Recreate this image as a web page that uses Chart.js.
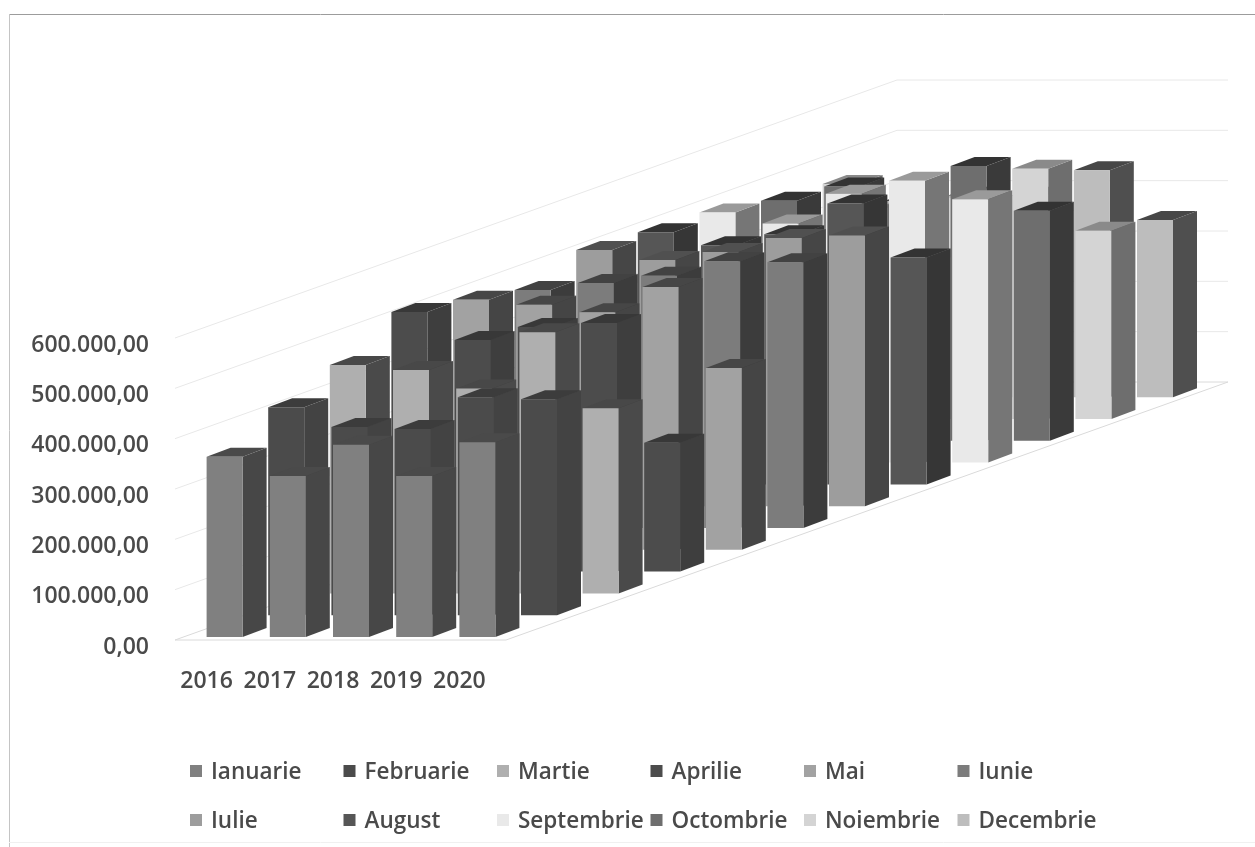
<!DOCTYPE html>
<html lang="ro">
<head>
    <meta charset="UTF-8">
    <title>Grafic lunar 2016-2020</title>
    <script src="https://cdn.jsdelivr.net/npm/chart.js"></script>
    <style>
        html, body { margin: 0; padding: 0; background: #fff; }
        #wrap { width: 1255px; height: 847px; position: relative; }
    </style>
</head>
<body>
<div id="wrap"><canvas id="chart" width="1255" height="847"></canvas></div>
<script>
    const years = ["2016", "2017", "2018", "2019", "2020"];
    const months = ["Ianuarie", "Februarie", "Martie", "Aprilie", "Mai", "Iunie", "Iulie", "August", "Septembrie", "Octombrie", "Noiembrie", "Decembrie"];

    // values; bars fully hidden behind others are rough guesses
    const ianuarie = [358000, 320000, 382000, 320000, 387000];
    const februarie = [413000, 374000, 370000, 433000, 429000];
    const martie = [454000, 444000, 407000, 519000, 368000];
    const aprilie = [516000, 460000, 486000, 494000, 256000];
    const mai = [497000, 487000, 472000, 522000, 361000];
    const iunie = [473000, 487000, 501000, 530000, 528000];
    const iulie = [509000, 489000, 505000, 533000, 538000];
    const august = [501000, 475000, 497000, 558000, 451000];
    const septembrie = [497000, 475000, 534000, 560000, 523000];
    const octombrie = [477000, 505000, 470000, 546000, 457000];
    const noiembrie = [467000, 420000, 440000, 497000, 374000];
    const decembrie = [390000, 400000, 400000, 451000, 352000];
    const series = [ianuarie, februarie, martie, aprilie, mai, iunie, iulie, august, septembrie, octombrie, noiembrie, decembrie];

    const frontColors = ["#808080", "#4b4b4b", "#afafaf", "#4c4c4c", "#a2a2a2", "#7c7c7c", "#9d9d9d", "#565656", "#e9e9e9", "#6e6e6e", "#d4d4d4", "#bdbdbd"];
    const sideColors = ["#474747", "#434343", "#4a4a4a", "#3e3e3e", "#454545", "#3c3c3c", "#464646", "#363636", "#767676", "#3a3a3a", "#6e6e6e", "#4f4f4f"];
    const topColors = ["#4a4a4a", "#3c3c3c", "#484848", "#383838", "#464646", "#424242", "#505050", "#333333", "#9a9a9a", "#333333", "#8a8a8a", "#474747"];

    // oblique projection of the excel 3d chart
    const depthStep = { x: 61.6, y: -21.8 };   // one month further back
    const boxDepth = { x: 24, y: -9 };
    const barWidth = 36;
    const floorLift = 10;                       // bars stand above the axis zero
    const wallLift = 7;
    const wallDepth = { x: 722, y: -258 };
    const fontFamily = "'Open Sans'";
    const textColor = "#4a4a4a";

    function formatValue(v) {
        return String(v).replace(/\B(?=(\d{3})+(?!\d))/g, ".") + ",00";
    }

    function poly(ctx, pts, color) {
        ctx.fillStyle = color;
        ctx.beginPath();
        pts.forEach((p, i) => i ? ctx.lineTo(p[0], p[1]) : ctx.moveTo(p[0], p[1]));
        ctx.closePath();
        ctx.fill();
    }

    const frame = {
        id: "frame",
        beforeDraw(chart) {
            const ctx = chart.ctx;
            ctx.save();
            ctx.lineWidth = 1;
            ctx.strokeStyle = "#9c9c9c";
            ctx.beginPath(); ctx.moveTo(9, 14.5); ctx.lineTo(1255, 14.5); ctx.stroke();
            ctx.strokeStyle = "#c4c4c4";
            ctx.beginPath(); ctx.moveTo(9.5, 14); ctx.lineTo(9.5, 847); ctx.stroke();
            ctx.strokeStyle = "#f0f0f0";
            ctx.beginPath(); ctx.moveTo(9, 842.5); ctx.lineTo(1255, 842.5); ctx.stroke();
            ctx.restore();
        }
    };

    const bars3d = {
        id: "bars3d",
        beforeDatasetsDraw(chart) {
            const ctx = chart.ctx;
            const yScale = chart.scales.y;
            const left = chart.chartArea.left;
            const wallRight = left + wallDepth.x + 331;

            // walls: each y tick runs back along the side wall, then across the back wall
            ctx.save();
            ctx.lineWidth = 1;
            yScale.ticks.forEach(t => {
                const py = yScale.getPixelForValue(t.value) - wallLift;
                ctx.strokeStyle = t.value === 0 ? "#dadada" : "#e8e8e8";
                ctx.beginPath();
                ctx.moveTo(left, py);
                ctx.lineTo(left + wallDepth.x, py + wallDepth.y);
                ctx.lineTo(wallRight, py + wallDepth.y);
                if (t.value === 0) {
                    ctx.moveTo(left, py);
                    ctx.lineTo(wallRight - wallDepth.x, py);
                    ctx.lineTo(wallRight, py + wallDepth.y);
                }
                ctx.stroke();
            });

            // painter order: december row first, january last
            for (let m = series.length - 1; m >= 0; m--) {
                const meta = chart.getDatasetMeta(m);
                const dx = depthStep.x * m, dy = depthStep.y * m - floorLift;
                for (let c = meta.data.length - 1; c >= 0; c--) {
                    const bar = meta.data[c];
                    const x0 = bar.x + dx, x1 = x0 + barWidth;
                    const yt = bar.y + dy, yb = bar.base + dy;
                    const bx = boxDepth.x, by = boxDepth.y;
                    poly(ctx, [[x1, yt], [x1 + bx, yt + by], [x1 + bx, yb + by], [x1, yb]], sideColors[m]);
                    poly(ctx, [[x0, yt], [x0 + bx, yt + by], [x1 + bx, yt + by], [x1, yt]], topColors[m]);
                    poly(ctx, [[x0, yt], [x1, yt], [x1, yb], [x0, yb]], frontColors[m]);
                }
            }
            ctx.restore();
            return false; // the flat bars are replaced by the boxes above
        }
    };

    const gridLegend = {
        id: "gridLegend",
        afterDraw(chart) {
            const ctx = chart.ctx;
            ctx.save();
            ctx.font = "600 22.5px " + fontFamily;
            ctx.textBaseline = "middle";
            chart.data.datasets.forEach((ds, i) => {
                const col = i % 6, row = Math.floor(i / 6);
                const x = 190 + col * 153.5, y = 771 + row * 49;
                ctx.fillStyle = ds.backgroundColor;
                ctx.fillRect(x, y - 6, 12, 12);
                ctx.fillStyle = textColor;
                ctx.fillText(ds.label, x + 21, y + 2);
            });
            ctx.restore();
        }
    };

    new Chart(document.getElementById("chart"), {
        type: "bar",
        data: {
            labels: years,
            datasets: series.map((values, i) => ({
                label: months[i],
                data: values,
                backgroundColor: frontColors[i],
                barThickness: barWidth,
                grouped: false
            }))
        },
        options: {
            responsive: false,
            animation: false,
            layout: { padding: { top: 345, right: 764, bottom: 0, left: 0 } },
            plugins: { legend: { display: false }, tooltip: { enabled: false } },
            scales: {
                x: {
                    grid: { display: false, drawTicks: false },
                    border: { display: false },
                    ticks: {
                        color: textColor, padding: 21, maxRotation: 0,
                        font: { family: fontFamily, size: 23, weight: "600" }
                    },
                    afterFit(scale) { scale.height = 200; }
                },
                y: {
                    min: 0,
                    max: 600000,
                    grid: { display: false, drawTicks: false },
                    border: { display: false },
                    ticks: {
                        stepSize: 100000, color: textColor, padding: 26,
                        font: { family: fontFamily, size: 23, weight: "600" },
                        callback: v => formatValue(v)
                    },
                    afterFit(scale) { scale.width = 175; }
                }
            }
        },
        plugins: [frame, bars3d, gridLegend]
    });
</script>
</body>
</html>
